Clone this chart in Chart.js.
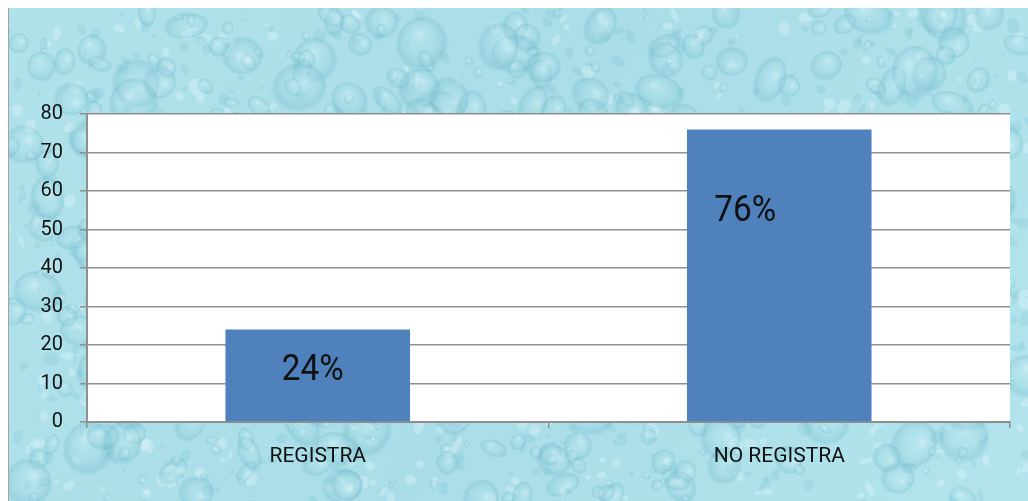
<!DOCTYPE html>
<html lang="es">
<head>
<meta charset="utf-8">
<title>Registra / No registra</title>
<script src="https://cdn.jsdelivr.net/npm/chart.js@4/dist/chart.umd.min.js"></script>
<style>
    html, body {
        margin: 0;
        padding: 0;
        background: #ffffff;
    }

    #chart-container {
        position: relative;
        width: 1028px;
        height: 501px;
    }
</style>
</head>
<body>
<div id="chart-container">
    <canvas id="chart" width="1028" height="501"></canvas>
</div>
<script>
// Chart data
const categories = ["REGISTRA", "NO REGISTRA"];
const values     = [24, 76];
const valueTexts = ["24%", "76%"];

const yTicks = { min: 0, max: 80, step: 10 };

/**
 * Paints the water drop backdrop into an offscreen canvas.
 *
 * @param {number} width
 * @param {number} height
 *
 * @returns {HTMLCanvasElement}
 */
function createDropTexture(width, height)
{
    const canvas  = document.createElement("canvas");
    canvas.width  = width;
    canvas.height = height;

    const ctx  = canvas.getContext("2d");
    const base = ctx.createLinearGradient(0, 0, width, height);

    base.addColorStop(0, "#b0e2eb");
    base.addColorStop(0.5, "#a9dde7");
    base.addColorStop(1, "#b3e4ed");

    ctx.fillStyle = base;
    ctx.fillRect(0, 0, width, height);

    // Small deterministic generator, so the drops stay put between renders
    let seed = 11;
    const next = () => (seed = (seed * 16807) % 2147483647) / 2147483647;

    // Soft mottling underneath the drops
    for (let i = 0; i < 900; ++i) {
        const cx = next() * width;
        const cy = next() * height;
        const r  = 2 + next() * 6;

        ctx.fillStyle = next() < 0.5
            ? "rgba(225, 247, 251, 0.35)"
            : "rgba(125, 195, 210, 0.25)";
        ctx.beginPath();
        ctx.ellipse(cx, cy, r, r * (0.4 + next() * 0.6), next() * Math.PI, 0, Math.PI * 2);
        ctx.fill();
    }

    for (let i = 0; i < 620; ++i) {
        const cx = next() * width;
        const cy = next() * height;
        const r  = 3 + Math.pow(next(), 2.4) * 24;
        const sy = 0.55 + next() * 0.6;

        ctx.save();
        ctx.translate(cx, cy);
        ctx.rotate(next() * Math.PI);
        ctx.scale(1, sy);

        const drop = ctx.createRadialGradient(-r * 0.3, -r * 0.3, 0, 0, 0, r);

        drop.addColorStop(0, "rgba(235, 250, 253, 0.45)");
        drop.addColorStop(0.45, "rgba(170, 222, 232, 0.12)");
        drop.addColorStop(0.85, "rgba(105, 180, 198, 0.30)");
        drop.addColorStop(1, "rgba(105, 180, 198, 0)");

        ctx.beginPath();
        ctx.arc(0, 0, r, 0, Math.PI * 2);
        ctx.fillStyle = drop;
        ctx.fill();
        ctx.restore();
    }

    return canvas;
}

/**
 * Draws the backdrop, the frame and the white plot area.
 */
const backdropPlugin = {
    id: "backdrop",

    beforeDraw(chart, args, options)
    {
        const { ctx, chartArea } = chart;
        const inset = options.inset;

        if (!this._texture) {
            this._texture = createDropTexture(chart.width - inset, chart.height - inset);
        }

        ctx.save();
        ctx.drawImage(this._texture, inset, inset);

        // Left frame line
        ctx.strokeStyle = "#a3a3a3";
        ctx.lineWidth   = 1;
        ctx.beginPath();
        ctx.moveTo(inset + 0.5, inset);
        ctx.lineTo(inset + 0.5, chart.height);
        ctx.stroke();

        ctx.fillStyle = "#ffffff";
        ctx.fillRect(chartArea.left, chartArea.top, chartArea.width, chartArea.height);
        ctx.restore();
    }
};

/**
 * Writes the percentage text inside each bar, slightly condensed.
 */
const valueLabelPlugin = {
    id: "valueLabels",

    afterDatasetsDraw(chart, args, options)
    {
        const { ctx } = chart;
        const bars    = chart.getDatasetMeta(0).data;

        bars.forEach((bar, index) => {
            const offset = options.offsets[index];

            ctx.save();
            ctx.translate(bar.x + offset.dx, bar.y + offset.dy);
            ctx.scale(options.condense, 1);
            ctx.font         = options.font;
            ctx.fillStyle    = options.color;
            ctx.textAlign    = "center";
            ctx.textBaseline = "middle";
            ctx.fillText(valueTexts[index], 0, 0);
            ctx.restore();
        });
    }
};

const axisColor = "#8f8f8f";
const tickFont  = { family: "Roboto, 'Liberation Sans', sans-serif", size: 20 };

new Chart(document.getElementById("chart"), {
    type: "bar",
    data: {
        labels: categories,
        datasets: [{
            data: values,
            backgroundColor: "#4f81bd",
            borderWidth: 0,
            categoryPercentage: 1,
            barPercentage: 0.4
        }]
    },
    options: {
        responsive: false,
        animation: false,
        devicePixelRatio: 1,
        layout: {
            padding: { left: 8, top: 114, right: 18, bottom: 0 }
        },
        plugins: {
            legend: { display: false },
            tooltip: { enabled: false },
            backdrop: { inset: 8 },
            valueLabels: {
                font: "37px Roboto, sans-serif",
                condense: 0.9,
                color: "#111111",
                offsets: [
                    { dx: -5, dy: 41 },
                    { dx: -34, dy: 82 }
                ]
            }
        },
        scales: {
            x: {
                grid: {
                    drawOnChartArea: false,
                    drawTicks: true,
                    tickLength: 6,
                    color: axisColor,
                    lineWidth: 1.5
                },
                border: { color: axisColor, width: 2 },
                ticks: {
                    color: "#111111",
                    font: { family: "Roboto, 'Liberation Sans', sans-serif", size: 21 },
                    padding: 16
                },
                afterFit: (scale) => { scale.height = 79; }
            },
            y: {
                min: yTicks.min,
                max: yTicks.max,
                grid: {
                    color: axisColor,
                    lineWidth: 1.5,
                    tickLength: 7
                },
                border: { color: axisColor, width: 2 },
                ticks: {
                    stepSize: yTicks.step,
                    color: "#111111",
                    font: tickFont,
                    padding: 17
                },
                afterFit: (scale) => { scale.width = 79; }
            }
        }
    },
    plugins: [backdropPlugin, valueLabelPlugin]
});
</script>
</body>
</html>
